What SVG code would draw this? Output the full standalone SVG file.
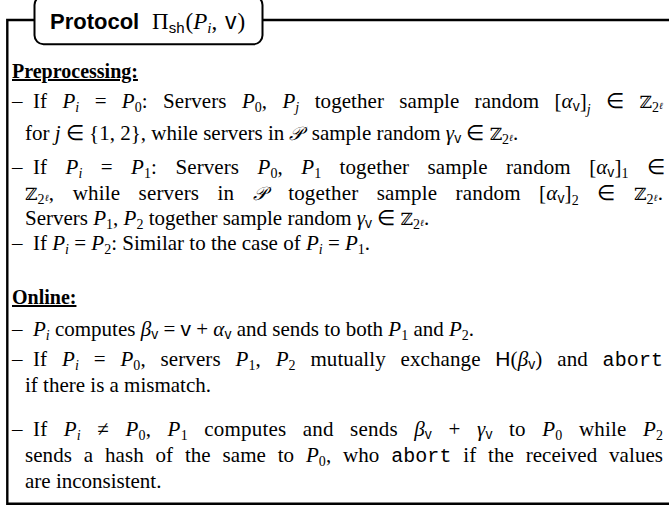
<svg xmlns="http://www.w3.org/2000/svg" width="669" height="508" viewBox="0 0 669 508">
<style>
text{font-family:"Liberation Serif","Times New Roman",serif;font-size:21px;fill:#000}
.i{font-style:italic}
.sf{font-family:"Liberation Sans",Arial,sans-serif;font-style:normal}
.tt{font-family:"Liberation Mono","Courier New",monospace;font-size:20px}
.bb{font-family:"DejaVu Serif",serif;font-size:17px}
.cal{font-family:"DejaVu Serif","DejaVu Sans",serif;font-style:italic;font-size:19px}
.s{font-size:14px}
.ss{font-size:9.5px}
.h{font-weight:bold;font-size:20px;text-decoration:underline}
.frame{fill:none;stroke:#000;stroke-width:2.4}
</style>
<rect width="669" height="508" fill="#fff"/>
<g id="frame">
<path class="frame" d="M7.3,505 V20 H35 M262,20 H669 M6.1,503.8 H669"/>
</g>
<g id="title">
<rect x="34.5" y="-4" width="228" height="48.3" rx="9" fill="#fff" stroke="#000" stroke-width="2"/>
<text x="50" y="29" class="sf" style="font-size:22px;font-weight:bold">Protocol</text>
<text x="152" y="29" style="font-size:23px">Π<tspan class="sf" style="font-size:15px" dy="4">sh</tspan><tspan dy="-4" dx="1">(</tspan><tspan class="i">P</tspan><tspan class="i" style="font-size:15px" dy="4">i</tspan><tspan dy="-4">, </tspan><tspan class="sf" dx="2">v</tspan><tspan dx="1">)</tspan></text>
</g>
<g id="preprocessing">
<text x="12" y="78" class="h">Preprocessing:</text>
<text x="12" y="108">–</text>
<text x="33" y="108" word-spacing="10" textLength="630" lengthAdjust="spacing">If <tspan class="i">P</tspan><tspan class="i s" dy="4">i</tspan><tspan dy="-4"> = </tspan><tspan class="i">P</tspan><tspan class="s" dy="4">0</tspan><tspan dy="-4">: Servers </tspan><tspan class="i">P</tspan><tspan class="s" dy="4">0</tspan><tspan dy="-4">, </tspan><tspan class="i">P</tspan><tspan class="i s" dy="4">j</tspan><tspan dy="-4"> together sample random [</tspan><tspan class="i">α</tspan><tspan class="sf s" dy="3">v</tspan><tspan dy="-3">]</tspan><tspan class="i s" dy="5.5">j</tspan><tspan dy="-5.5"> ∈ </tspan><tspan class="bb">ℤ</tspan><tspan class="s" dy="4">2</tspan><tspan class="i ss" dy="-3">ℓ</tspan></text>
<text x="25" y="140">for <tspan class="i">j</tspan> ∈ {1, 2}, while servers in <tspan class="cal">𝒫</tspan><tspan dx="3"> sample random </tspan><tspan class="i">γ</tspan><tspan class="sf s" dy="3">v</tspan><tspan dy="-3"> ∈ </tspan><tspan class="bb">ℤ</tspan><tspan class="s" dy="4">2</tspan><tspan class="i ss" dy="-3">ℓ</tspan><tspan dy="-1">.</tspan></text>
<text x="12" y="174">–</text>
<text x="33" y="174" word-spacing="13" textLength="632" lengthAdjust="spacing">If <tspan class="i">P</tspan><tspan class="i s" dy="4">i</tspan><tspan dy="-4"> = </tspan><tspan class="i">P</tspan><tspan class="s" dy="4">1</tspan><tspan dy="-4">: Servers </tspan><tspan class="i">P</tspan><tspan class="s" dy="4">0</tspan><tspan dy="-4">, </tspan><tspan class="i">P</tspan><tspan class="s" dy="4">1</tspan><tspan dy="-4"> together sample random [</tspan><tspan class="i">α</tspan><tspan class="sf s" dy="3">v</tspan><tspan dy="-3">]</tspan><tspan class="s" dy="3.5">1</tspan><tspan dy="-3.5"> ∈</tspan></text>
<text x="25" y="200" word-spacing="13" textLength="638" lengthAdjust="spacing"><tspan class="bb">ℤ</tspan><tspan class="s" dy="4">2</tspan><tspan class="i ss" dy="-3">ℓ</tspan><tspan dy="-1">, while servers in </tspan><tspan class="cal">𝒫</tspan><tspan dx="3"> together sample random [</tspan><tspan class="i">α</tspan><tspan class="sf s" dy="3">v</tspan><tspan dy="-3">]</tspan><tspan class="s" dy="5">2</tspan><tspan dy="-5"> ∈ </tspan><tspan class="bb">ℤ</tspan><tspan class="s" dy="4">2</tspan><tspan class="i ss" dy="-3">ℓ</tspan><tspan dy="-1">.</tspan></text>
<text x="25" y="225">Servers <tspan class="i">P</tspan><tspan class="s" dy="4">1</tspan><tspan dy="-4">, </tspan><tspan class="i">P</tspan><tspan class="s" dy="4">2</tspan><tspan dy="-4"> together sample random </tspan><tspan class="i">γ</tspan><tspan class="sf s" dy="3">v</tspan><tspan dy="-3"> ∈ </tspan><tspan class="bb">ℤ</tspan><tspan class="s" dy="4">2</tspan><tspan class="i ss" dy="-3">ℓ</tspan><tspan dy="-1">.</tspan></text>
<text x="12" y="250">–</text>
<text x="33" y="250">If <tspan class="i">P</tspan><tspan class="i s" dy="4">i</tspan><tspan dy="-4"> = </tspan><tspan class="i">P</tspan><tspan class="s" dy="4">2</tspan><tspan dy="-4">: Similar to the case of </tspan><tspan class="i">P</tspan><tspan class="i s" dy="4">i</tspan><tspan dy="-4"> = </tspan><tspan class="i">P</tspan><tspan class="s" dy="4">1</tspan><tspan dy="-4">.</tspan></text>
</g>
<g id="online">
<text x="12" y="304" class="h">Online:</text>
<text x="12" y="336">–</text>
<text x="33" y="336"><tspan class="i">P</tspan><tspan class="i s" dy="4">i</tspan><tspan dy="-4"> computes </tspan><tspan class="i">β</tspan><tspan class="sf s" dy="3">v</tspan><tspan dy="-3"> = </tspan><tspan class="sf">v</tspan> + <tspan class="i">α</tspan><tspan class="sf s" dy="3">v</tspan><tspan dy="-3"> and sends to both </tspan><tspan class="i">P</tspan><tspan class="s" dy="4">1</tspan><tspan dy="-4"> and </tspan><tspan class="i">P</tspan><tspan class="s" dy="4">2</tspan><tspan dy="-4">.</tspan></text>
<text x="12" y="366">–</text>
<text x="33" y="366" word-spacing="9.5" textLength="630" lengthAdjust="spacing">If <tspan class="i">P</tspan><tspan class="i s" dy="4">i</tspan><tspan dy="-4"> = </tspan><tspan class="i">P</tspan><tspan class="s" dy="4">0</tspan><tspan dy="-4">, servers </tspan><tspan class="i">P</tspan><tspan class="s" dy="4">1</tspan><tspan dy="-4">, </tspan><tspan class="i">P</tspan><tspan class="s" dy="4">2</tspan><tspan dy="-4"> mutually exchange </tspan><tspan class="sf">H</tspan>(<tspan class="i">β</tspan><tspan class="sf s" dy="3">v</tspan><tspan dy="-3">) and </tspan><tspan class="tt">abort</tspan></text>
<text x="25" y="392">if there is a mismatch.</text>
<text x="12" y="436">–</text>
<text x="33" y="436" word-spacing="11" textLength="630" lengthAdjust="spacing">If <tspan class="i">P</tspan><tspan class="i s" dy="4">i</tspan><tspan dy="-4"> ≠ </tspan><tspan class="i">P</tspan><tspan class="s" dy="4">0</tspan><tspan dy="-4">, </tspan><tspan class="i">P</tspan><tspan class="s" dy="4">1</tspan><tspan dy="-4"> computes and sends </tspan><tspan class="i">β</tspan><tspan class="sf s" dy="3">v</tspan><tspan dy="-3"> + </tspan><tspan class="i">γ</tspan><tspan class="sf s" dy="3">v</tspan><tspan dy="-3"> to </tspan><tspan class="i">P</tspan><tspan class="s" dy="4">0</tspan><tspan dy="-4"> while </tspan><tspan class="i">P</tspan><tspan class="s" dy="4">2</tspan></text>
<text x="25" y="462" word-spacing="6.5" textLength="638" lengthAdjust="spacing">sends a hash of the same to <tspan class="i">P</tspan><tspan class="s" dy="4">0</tspan><tspan dy="-4">, who </tspan><tspan class="tt">abort</tspan> if the received values</text>
<text x="25" y="488">are inconsistent.</text>
</g>
</svg>
